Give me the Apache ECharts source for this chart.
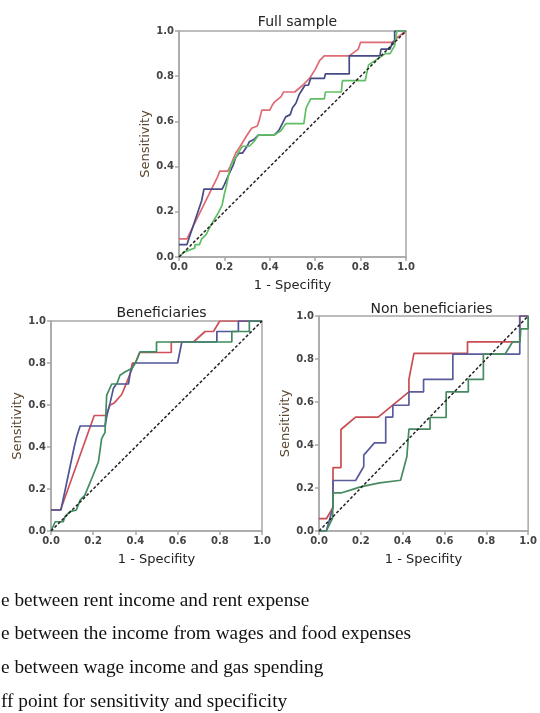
<!DOCTYPE html>
<html>
<head>
<meta charset="utf-8">
<script src="https://cdn.jsdelivr.net/npm/echarts@6/dist/echarts.min.js"></script>
<style>
  html, body { margin: 0; padding: 0; background: #fff; }
  #chart { width: 540px; height: 713px; }
</style>
</head>
<body>
<div id="chart"></div>
<script>
// ROC curves, points are [1 - specificity, sensitivity]
const panelTitles = ["Full sample", "Beneficiaries", "Non beneficiaries"];
const tickValues = [0, 0.2, 0.4, 0.6, 0.8, 1.0];
const diagonal = [[0, 0], [1, 1]];

const fullRed = [[0,0.08],[0.035,0.08],[0.17,0.355],[0.18,0.38],[0.215,0.38],[0.225,0.40],[0.25,0.46],[0.27,0.49],[0.30,0.54],[0.32,0.57],[0.345,0.58],[0.355,0.61],[0.365,0.65],[0.40,0.65],[0.41,0.67],[0.42,0.685],[0.45,0.71],[0.46,0.73],[0.51,0.73],[0.545,0.76],[0.575,0.79],[0.60,0.83],[0.62,0.87],[0.64,0.89],[0.75,0.89],[0.79,0.92],[0.80,0.95],[0.94,0.95],[0.96,0.97],[1,1]];
const fullBlue = [[0,0.055],[0.035,0.055],[0.10,0.25],[0.11,0.30],[0.19,0.30],[0.20,0.32],[0.215,0.355],[0.24,0.41],[0.25,0.44],[0.265,0.46],[0.28,0.46],[0.30,0.49],[0.31,0.51],[0.33,0.52],[0.35,0.54],[0.42,0.54],[0.44,0.56],[0.455,0.59],[0.47,0.62],[0.49,0.63],[0.50,0.66],[0.515,0.68],[0.53,0.72],[0.555,0.76],[0.57,0.76],[0.58,0.79],[0.64,0.79],[0.645,0.81],[0.75,0.81],[0.75,0.89],[0.885,0.89],[0.89,0.92],[0.93,0.92],[0.94,0.95],[0.95,0.95],[0.95,1.0],[1,1]];
const fullGreen = [[0,0],[0.02,0.02],[0.03,0.025],[0.07,0.04],[0.07,0.055],[0.09,0.055],[0.10,0.08],[0.12,0.10],[0.14,0.14],[0.17,0.19],[0.19,0.23],[0.20,0.28],[0.21,0.32],[0.22,0.37],[0.23,0.41],[0.25,0.44],[0.26,0.46],[0.28,0.49],[0.31,0.49],[0.33,0.51],[0.35,0.54],[0.42,0.54],[0.45,0.56],[0.47,0.59],[0.55,0.59],[0.56,0.66],[0.58,0.70],[0.64,0.70],[0.645,0.73],[0.715,0.73],[0.72,0.78],[0.82,0.78],[0.835,0.85],[0.91,0.90],[0.93,0.90],[0.95,0.935],[0.96,1.0],[1,1]];

const benRed = [[0,0.1],[0.045,0.1],[0.205,0.55],[0.26,0.55],[0.28,0.60],[0.30,0.61],[0.335,0.65],[0.36,0.71],[0.375,0.75],[0.386,0.80],[0.40,0.80],[0.42,0.85],[0.57,0.85],[0.57,0.90],[0.675,0.90],[0.73,0.95],[0.77,0.95],[0.80,1.0],[1,1]];
const benBlue = [[0,0.1],[0.047,0.1],[0.11,0.40],[0.122,0.45],[0.13,0.45],[0.138,0.50],[0.256,0.50],[0.265,0.55],[0.28,0.61],[0.296,0.68],[0.31,0.70],[0.367,0.70],[0.375,0.75],[0.395,0.80],[0.60,0.80],[0.61,0.85],[0.62,0.90],[0.786,0.90],[0.786,0.95],[0.888,0.95],[0.888,1.0],[1,1]];
const benGreen = [[0,0],[0.02,0.044],[0.058,0.044],[0.066,0.068],[0.09,0.092],[0.12,0.10],[0.138,0.147],[0.16,0.17],[0.193,0.25],[0.225,0.33],[0.24,0.44],[0.256,0.47],[0.264,0.647],[0.288,0.70],[0.312,0.70],[0.327,0.742],[0.35,0.757],[0.383,0.774],[0.40,0.80],[0.422,0.853],[0.50,0.853],[0.50,0.90],[0.857,0.90],[0.857,0.95],[0.94,0.95],[0.94,1.0],[1,1]];

const nonRed = [[0,0.058],[0.036,0.058],[0.067,0.11],[0.067,0.295],[0.105,0.295],[0.105,0.472],[0.175,0.53],[0.283,0.53],[0.43,0.647],[0.43,0.705],[0.454,0.826],[0.71,0.826],[0.71,0.88],[0.96,0.88],[0.96,1.0],[1,1]];
const nonBlue = [[0,0],[0.035,0],[0.067,0.11],[0.067,0.235],[0.175,0.235],[0.214,0.30],[0.214,0.353],[0.265,0.41],[0.319,0.41],[0.319,0.53],[0.353,0.53],[0.353,0.585],[0.43,0.585],[0.43,0.647],[0.50,0.647],[0.50,0.705],[0.64,0.705],[0.64,0.823],[0.96,0.823],[0.96,1.0],[1,1]];
const nonGreen = [[0,0],[0.035,0],[0.065,0.06],[0.067,0.177],[0.105,0.177],[0.15,0.19],[0.198,0.205],[0.29,0.224],[0.39,0.236],[0.42,0.345],[0.43,0.474],[0.531,0.474],[0.531,0.528],[0.608,0.528],[0.608,0.647],[0.714,0.647],[0.714,0.705],[0.786,0.705],[0.786,0.823],[0.89,0.823],[0.926,0.88],[0.961,0.88],[0.965,0.94],[1.0,0.94],[1,1]];

const legendLines = [
  "e between rent income and rent expense",
  "e between the income from wages and food expenses",
  "e between wage income and gas spending",
  "ff point for sensitivity and specificity"
];

const panels = [
  { red: fullRed, blue: fullBlue, green: fullGreen, colors: ["#df6a74", "#474b85", "#60bf64"] },
  { red: benRed, blue: benBlue, green: benGreen, colors: ["#cf505a", "#4f5597", "#3f8c60"] },
  { red: nonRed, blue: nonBlue, green: nonGreen, colors: ["#c94c52", "#5a5c9c", "#468b60"] }
];

const grids = [
  { left: 179, top: 31, width: 227, height: 226 },
  { left: 51, top: 321, width: 211, height: 210 },
  { left: 319, top: 316, width: 215, height: 215 }
];

const font = "DejaVu Sans";
const boxColor = "#a8a8a8";

const xAxes = grids.map((g, i) => ({
  type: "value", gridIndex: i, min: 0, max: 1, interval: 0.2,
  name: "1 - Specifity", nameLocation: "middle", nameGap: 22,
  nameTextStyle: { fontSize: 13, color: "#222", fontFamily: font },
  axisLine: { show: true, lineStyle: { color: boxColor, width: 1.5 } },
  axisTick: { show: true, length: 4, lineStyle: { color: boxColor, width: 1.5 } },
  axisLabel: { fontSize: 10, color: "#444", fontWeight: "bold", fontFamily: font, margin: 5,
    formatter: v => v.toFixed(1) },
  splitLine: { show: false }
}));

const yAxes = grids.map((g, i) => ({
  type: "value", gridIndex: i, min: 0, max: 1, interval: 0.2,
  name: "Sensitivity", nameLocation: "middle", nameGap: 26,
  nameTextStyle: { fontSize: 13, color: "#5b4630", fontFamily: font },
  axisLine: { show: true, lineStyle: { color: boxColor, width: 1.5 } },
  axisTick: { show: true, length: 4, lineStyle: { color: boxColor, width: 1.5 } },
  axisLabel: { fontSize: 10, color: "#444", fontWeight: "bold", fontFamily: font, margin: 5,
    formatter: v => v.toFixed(1) },
  splitLine: { show: false }
}));

const series = [];
panels.forEach((p, i) => {
  [p.red, p.blue, p.green].forEach((d, k) => {
    series.push({
      type: "line", xAxisIndex: i, yAxisIndex: i, data: d,
      showSymbol: false, silent: true,
      lineStyle: { color: p.colors[k], width: 1.7 }
    });
  });
  series.push({
    type: "line", xAxisIndex: i, yAxisIndex: i, data: diagonal,
    showSymbol: false, silent: true,
    lineStyle: { color: "#222", width: 1.5, type: [3, 2] }
  });
});

const titleTops = [10, 301, 297];
const chart = echarts.init(document.getElementById("chart"), null, { renderer: "canvas" });
chart.setOption({
  animation: false,
  backgroundColor: "#fff",
  title: panelTitles.map((t, i) => ({
    text: t, left: grids[i].left + grids[i].width / 2, top: titleTops[i], textAlign: "center",
    textStyle: { fontSize: 14, fontWeight: "normal", color: "#222", fontFamily: font }
  })),
  grid: grids.map(g => Object.assign({ show: true, borderColor: boxColor, borderWidth: 1.5,
    backgroundColor: "transparent" }, g)),
  xAxis: xAxes,
  yAxis: yAxes,
  series: series,
  graphic: legendLines.map((s, i) => ({
    type: "text", left: 1, top: 591 + i * 33.8,
    style: { text: s, font: "19.3px 'Liberation Serif'", fill: "#111" }
  }))
});
</script>
</body>
</html>
